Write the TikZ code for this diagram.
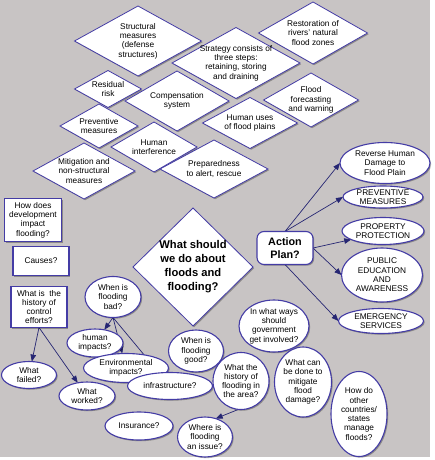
\documentclass[tikz,border=0pt]{standalone}
\usepackage{fontspec}
\setmainfont{Liberation Sans}
\usetikzlibrary{shapes.geometric,shadows,arrows.meta}
\definecolor{bgc}{RGB}{200,196,196}
\definecolor{bord}{RGB}{68,60,165}
\definecolor{arr}{RGB}{38,38,115}
\pgfdeclarelayer{bgl}
\pgfdeclarelayer{edgel}
\pgfsetlayers{bgl,edgel,main}
\tikzset{
 base/.style={fill=white,draw=bord,inner sep=-40pt,outer sep=0pt,align=center,
   font=\fontsize{8.3}{9.3}\selectfont,
   drop shadow={shadow xshift=1.2pt,shadow yshift=-1.2pt,opacity=0.3,fill=black}},
 dia/.style={base,diamond,line width=0.8pt},
 ell/.style={base,ellipse,line width=1.1pt},
 box/.style={base,rectangle,line width=1.1pt},
 conn/.style={draw=arr,line width=0.7pt,-{Triangle[length=7pt,width=5.5pt]}},
}
\begin{document}
\begin{tikzpicture}[x=1pt,y=-1pt]
\useasboundingbox (0,0) rectangle (434,460);
\begin{pgfonlayer}{bgl}
\fill[white] (0,0) rectangle (434,460);
\fill[bgc] (0,0) rectangle (430,457);
\end{pgfonlayer}
% diamonds
\node[dia,minimum width=127pt,minimum height=70pt] (d1) at (138,41) {Structural\\measures\\(defense\\structures)};
\node[dia,minimum width=128pt,minimum height=71pt] (d2) at (236,63) {Strategy consists of\\three steps:\\retaining, storing\\and draining};
\node[dia,minimum width=109pt,minimum height=62pt] (d3) at (313,33) {Restoration of\\rivers' natural\\flood zones};
\node[dia,minimum width=67pt,minimum height=37pt] (d4) at (108,89) {Residual\\risk};
\node[dia,minimum width=104pt,minimum height=60pt] (d5) at (177,101) {Compensation\\system};
\node[dia,minimum width=95pt,minimum height=54pt] (d6) at (311,100) {Flood\\forecasting\\and warning};
\node[dia,minimum width=95pt,minimum height=51pt] (d7) at (250,123) {Human uses\\of flood plains};
\node[dia,minimum width=78pt,minimum height=44pt] (d8) at (99,126) {Preventive\\measures};
\node[dia,minimum width=86pt,minimum height=50pt] (d9) at (154,147) {Human\\interference};
\node[dia,minimum width=108pt,minimum height=58pt] (d10) at (214,169) {Preparedness\\to alert, rescue};
\node[dia,minimum width=102pt,minimum height=56pt] (d11) at (84,171) {Mitigation and\\non-structural\\measures};
\node[dia,minimum width=120pt,minimum height=118pt,font=\fontsize{11.2}{14}\selectfont\bfseries] (big) at (193,267) {What should\\we do about\\floods and\\flooding?};
% boxes
\node[box,minimum width=57pt,minimum height=43pt] (r1) at (33,220) {How does\\development\\impact\\flooding?};
\node[box,minimum width=56pt,minimum height=29pt] (r2) at (41,261) {Causes?};
\node[box,minimum width=56pt,minimum height=41pt] (r3) at (39,307) {What is\ \ the\\history of\\control\\efforts?};
\node[box,rounded corners=7pt,minimum width=56pt,minimum height=33pt,font=\fontsize{10.8}{13.5}\selectfont\bfseries] (ap) at (285,248) {Action\\Plan?};
% ellipses right
\node[ell,minimum width=90pt,minimum height=41pt] (rev) at (385,163) {Reverse Human\\Damage to\\Flood Plain};
\node[ell,minimum width=80pt,minimum height=22pt] (prev) at (383,197) {PREVENTIVE\\MEASURES};
\node[ell,minimum width=82pt,minimum height=27pt] (prop) at (383,231) {PROPERTY\\PROTECTION};
\node[ell,minimum width=81pt,minimum height=54pt] (pub) at (382,275) {PUBLIC\\EDUCATION\\AND\\AWARENESS};
\node[ell,minimum width=85pt,minimum height=25pt] (emer) at (381,321) {EMERGENCY\\SERVICES};
% ellipses lower
\node[ell,minimum width=56pt,minimum height=41pt] (bad) at (113,297) {When is\\flooding\\bad?};
\node[ell,minimum width=56pt,minimum height=28pt] (human) at (95,343) {human\\impacts?};
\node[ell,minimum width=85pt,minimum height=29pt] (env) at (126,368) {Environmental\\impacts?};
\node[ell,minimum width=85pt,minimum height=27pt] (infra) at (170,386) {infrastructure?};
\node[ell,minimum width=55pt,minimum height=27pt] (failed) at (29,375) {What\\failed?};
\node[ell,minimum width=56pt,minimum height=28pt] (worked) at (87,396) {What\\worked?};
\node[ell,minimum width=68pt,minimum height=28pt] (ins) at (139,426) {Insurance?};
\node[ell,minimum width=55pt,minimum height=40pt] (where) at (205,437) {Where is\\flooding\\an issue?};
\node[ell,minimum width=55pt,minimum height=42pt] (good) at (196,351) {When is\\flooding\\good?};
\node[ell,minimum width=56pt,minimum height=57pt] (hf) at (241,381) {What the\\history of\\flooding in\\the area?};
\node[ell,minimum width=70pt,minimum height=52pt] (gov) at (274,326) {In what ways\\should\\government\\get involved?};
\node[ell,minimum width=57pt,minimum height=70pt] (mit) at (303,382) {What can\\be done to\\mitigate\\flood\\damage?};
\node[ell,minimum width=56pt,minimum height=85pt] (other) at (359,414) {How do\\other\\countries/\\states\\manage\\floods?};
% connectors
\begin{pgfonlayer}{edgel}
\draw[conn] (ap.north) -- (rev.west);
\draw[conn] (ap.north) -- (prev.west);
\draw[conn] (ap.east) -- (prop.195);
\draw[conn] (ap.east) -- (pub.west);
\draw[conn] (ap.south) -- (emer.west);
\draw[conn] (r3.south) -- (failed);
\draw[conn] (r3.south) -- (worked);
\draw[conn] (bad.south) -- (human);
\draw[conn] (bad.south) -- (env);
\draw[conn] (bad.south) -- (infra);
\draw[conn] (hf.265) -- (where.60);
\end{pgfonlayer}
\end{tikzpicture}
\end{document}
